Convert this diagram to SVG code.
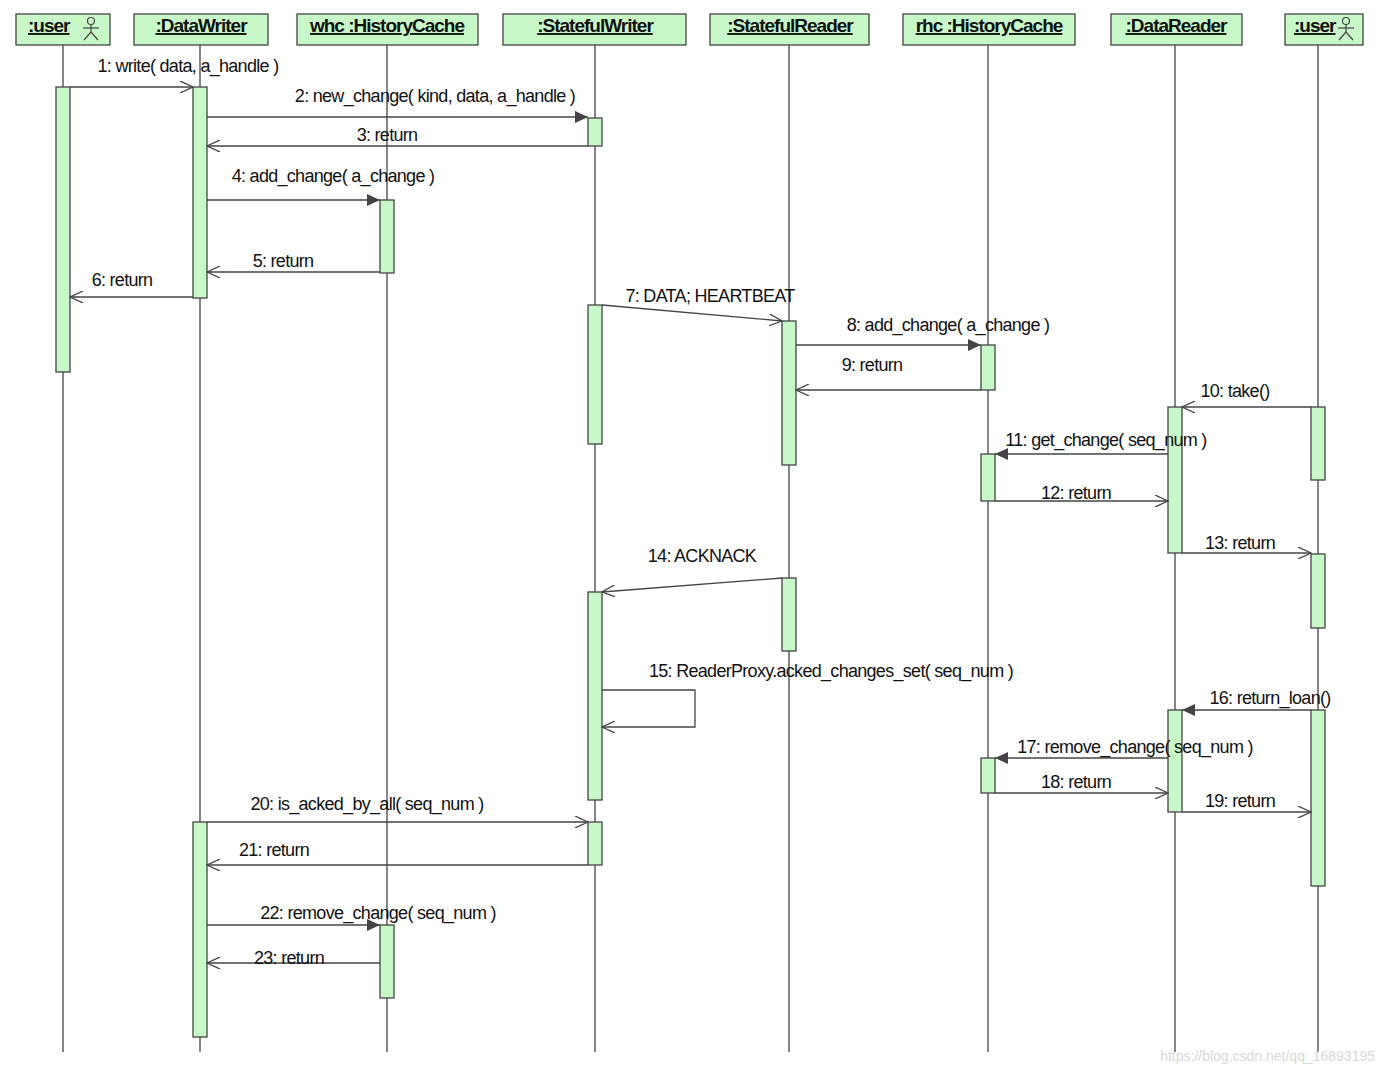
<svg xmlns="http://www.w3.org/2000/svg" width="1385" height="1074" viewBox="0 0 1385 1074">
<style>
.hd{fill:#c8f8c8;stroke:#444;stroke-width:1.3}
.ht{font-family:"Liberation Sans",Arial,sans-serif;font-size:19px;font-weight:bold;fill:#111;text-decoration:underline;letter-spacing:-1px}
.ll{stroke:#444;stroke-width:1.3;fill:none}
.act{fill:#c8f8c8;stroke:#444;stroke-width:1.3}
.m{stroke:#444;stroke-width:1.3;fill:none}
.t{font-family:"Liberation Sans",Arial,sans-serif;font-size:18px;fill:#111;text-anchor:middle;letter-spacing:-0.7px}
.ic{stroke:#444;stroke-width:1.2;fill:none}
</style>
<defs>
<marker id="o" markerWidth="14" markerHeight="12" refX="13" refY="6" orient="auto" markerUnits="userSpaceOnUse"><path d="M0,0 L13,6 L0,12" fill="none" stroke="#444" stroke-width="1.3"/></marker>
<marker id="f" markerWidth="14" markerHeight="12" refX="13" refY="6" orient="auto" markerUnits="userSpaceOnUse"><path d="M0,0 L13,6 L0,12 Z" fill="#444"/></marker>
</defs>
<rect width="1385" height="1074" fill="#fff"/>
<g id="lifelines">
<line class="ll" x1="63" y1="45" x2="63" y2="1052"/>
<line class="ll" x1="200" y1="45" x2="200" y2="1052"/>
<line class="ll" x1="387" y1="45" x2="387" y2="1052"/>
<line class="ll" x1="595" y1="45" x2="595" y2="1052"/>
<line class="ll" x1="789" y1="45" x2="789" y2="1052"/>
<line class="ll" x1="988" y1="45" x2="988" y2="1052"/>
<line class="ll" x1="1175" y1="45" x2="1175" y2="1052"/>
<line class="ll" x1="1318" y1="45" x2="1318" y2="1052"/>
</g>
<g id="user1"><rect class="hd" x="16" y="14" width="94" height="31"/><text class="ht" x="28" y="32">:user</text><g class="ic"><circle cx="91" cy="21" r="3.5"/><line x1="91" y1="24.5" x2="91" y2="32"/><line x1="83" y1="28" x2="99" y2="28"/><line x1="91" y1="32" x2="84" y2="40"/><line x1="91" y1="32" x2="98" y2="40"/></g></g>
<g id="datawriter"><rect class="hd" x="134" y="14" width="134" height="31"/><text class="ht" x="201" y="32" text-anchor="middle">:DataWriter</text></g>
<g id="whc"><rect class="hd" x="297" y="14" width="181" height="31"/><text class="ht" x="387" y="32" text-anchor="middle">whc :HistoryCache</text></g>
<g id="statefulwriter"><rect class="hd" x="503" y="14" width="183" height="31"/><text class="ht" x="595" y="32" text-anchor="middle">:StatefulWriter</text></g>
<g id="statefulreader"><rect class="hd" x="710" y="14" width="159" height="31"/><text class="ht" x="790" y="32" text-anchor="middle">:StatefulReader</text></g>
<g id="rhc"><rect class="hd" x="903" y="14" width="172" height="31"/><text class="ht" x="989" y="32" text-anchor="middle">rhc :HistoryCache</text></g>
<g id="datareader"><rect class="hd" x="1111" y="14" width="131" height="31"/><text class="ht" x="1176" y="32" text-anchor="middle">:DataReader</text></g>
<g id="user2"><rect class="hd" x="1285" y="14" width="78" height="31"/><text class="ht" x="1294" y="32">:user</text><g class="ic"><circle cx="1346" cy="21" r="3.5"/><line x1="1346" y1="24.5" x2="1346" y2="32"/><line x1="1338" y1="28" x2="1354" y2="28"/><line x1="1346" y1="32" x2="1339" y2="40"/><line x1="1346" y1="32" x2="1353" y2="40"/></g></g>
<g id="activations">
<rect class="act" x="56" y="87" width="14" height="285"/>
<rect class="act" x="193" y="87" width="14" height="211"/>
<rect class="act" x="193" y="822" width="14" height="215"/>
<rect class="act" x="380" y="200" width="14" height="73"/>
<rect class="act" x="380" y="925" width="14" height="73"/>
<rect class="act" x="588" y="118" width="14" height="28"/>
<rect class="act" x="588" y="305" width="14" height="139"/>
<rect class="act" x="588" y="592" width="14" height="208"/>
<rect class="act" x="588" y="822" width="14" height="43"/>
<rect class="act" x="782" y="321" width="14" height="144"/>
<rect class="act" x="782" y="578" width="14" height="73"/>
<rect class="act" x="981" y="345" width="14" height="45"/>
<rect class="act" x="981" y="454" width="14" height="47"/>
<rect class="act" x="981" y="758" width="14" height="35"/>
<rect class="act" x="1168" y="407" width="14" height="146"/>
<rect class="act" x="1168" y="710" width="14" height="102"/>
<rect class="act" x="1311" y="407" width="14" height="73"/>
<rect class="act" x="1311" y="554" width="14" height="74"/>
<rect class="act" x="1311" y="710" width="14" height="176"/>
</g>
<g id="connectors">
<line class="m" x1="70" y1="87" x2="193" y2="87" marker-end="url(#o)"/>
<line class="m" x1="207" y1="117" x2="588" y2="117" marker-end="url(#f)"/>
<line class="m" x1="588" y1="146" x2="207" y2="146" marker-end="url(#o)"/>
<line class="m" x1="207" y1="200" x2="380" y2="200" marker-end="url(#f)"/>
<line class="m" x1="380" y1="272" x2="207" y2="272" marker-end="url(#o)"/>
<line class="m" x1="193" y1="297" x2="70" y2="297" marker-end="url(#o)"/>
<line class="m" x1="602" y1="305" x2="782" y2="321" marker-end="url(#o)"/>
<line class="m" x1="796" y1="345" x2="981" y2="345" marker-end="url(#f)"/>
<line class="m" x1="981" y1="390" x2="796" y2="390" marker-end="url(#o)"/>
<line class="m" x1="1311" y1="407" x2="1182" y2="407" marker-end="url(#o)"/>
<line class="m" x1="1168" y1="454" x2="995" y2="454" marker-end="url(#f)"/>
<line class="m" x1="995" y1="501" x2="1168" y2="501" marker-end="url(#o)"/>
<line class="m" x1="1182" y1="553" x2="1311" y2="553" marker-end="url(#o)"/>
<line class="m" x1="782" y1="578" x2="602" y2="592" marker-end="url(#o)"/>
<polyline class="m" points="602,690 695,690 695,727 602,727" marker-end="url(#o)"/>
<line class="m" x1="1311" y1="710" x2="1182" y2="710" marker-end="url(#f)"/>
<line class="m" x1="1168" y1="758" x2="995" y2="758" marker-end="url(#f)"/>
<line class="m" x1="995" y1="793" x2="1168" y2="793" marker-end="url(#o)"/>
<line class="m" x1="1182" y1="812" x2="1311" y2="812" marker-end="url(#o)"/>
<line class="m" x1="207" y1="822" x2="588" y2="822" marker-end="url(#o)"/>
<line class="m" x1="588" y1="865" x2="207" y2="865" marker-end="url(#o)"/>
<line class="m" x1="207" y1="925" x2="380" y2="925" marker-end="url(#f)"/>
<line class="m" x1="380" y1="963" x2="207" y2="963" marker-end="url(#o)"/>
</g>
<g id="labels">
<text class="t" x="188" y="72">1: write( data, a_handle )</text>
<text class="t" x="435" y="102">2: new_change( kind, data, a_handle )</text>
<text class="t" x="387" y="141">3: return</text>
<text class="t" x="333" y="182">4: add_change( a_change )</text>
<text class="t" x="283" y="267">5: return</text>
<text class="t" x="122" y="286">6: return</text>
<text class="t" x="710" y="302">7: DATA; HEARTBEAT</text>
<text class="t" x="948" y="331">8: add_change( a_change )</text>
<text class="t" x="872" y="371">9: return</text>
<text class="t" x="1235" y="397">10: take()</text>
<text class="t" x="1106" y="446">11: get_change( seq_num )</text>
<text class="t" x="1076" y="499">12: return</text>
<text class="t" x="1240" y="549">13: return</text>
<text class="t" x="702" y="562">14: ACKNACK</text>
<text class="t" x="831" y="677">15: ReaderProxy.acked_changes_set( seq_num )</text>
<text class="t" x="1270" y="704">16: return_loan()</text>
<text class="t" x="1135" y="753">17: remove_change( seq_num )</text>
<text class="t" x="1076" y="788">18: return</text>
<text class="t" x="1240" y="807">19: return</text>
<text class="t" x="367" y="810">20: is_acked_by_all( seq_num )</text>
<text class="t" x="274" y="856">21: return</text>
<text class="t" x="378" y="919">22: remove_change( seq_num )</text>
<text class="t" x="289" y="964">23: return</text>
<text x="1375" y="1061" text-anchor="end" font-family="Liberation Sans,Arial,sans-serif" font-size="14" fill="#d8d8d8">https://blog.csdn.net/qq_16893195</text>
</g>
</svg>
